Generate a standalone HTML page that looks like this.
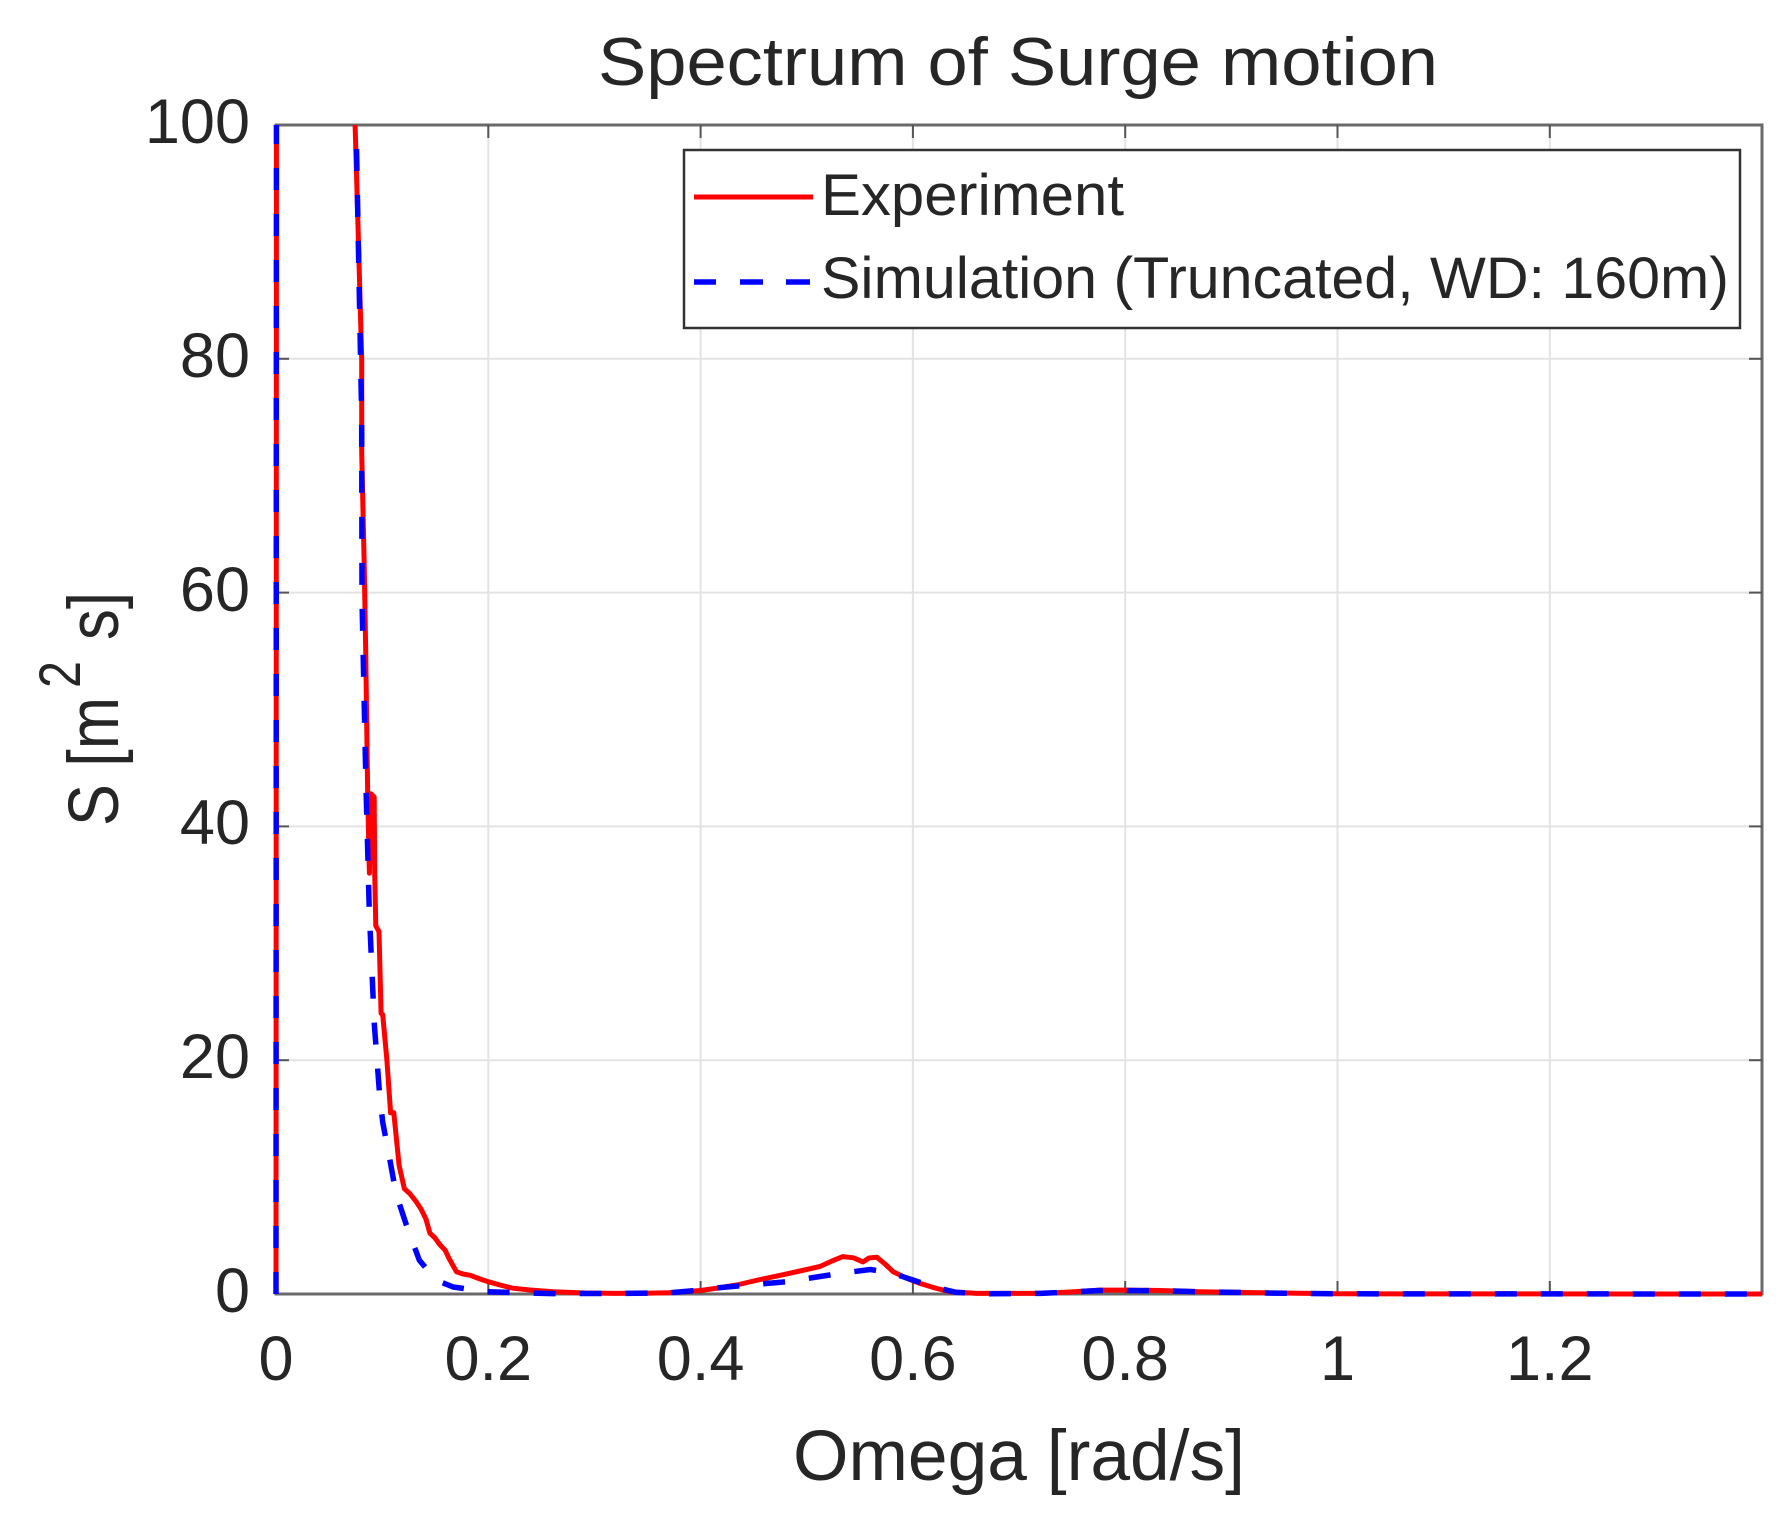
<!DOCTYPE html>
<html>
<head>
<meta charset="utf-8">
<style>
  html, body { margin: 0; padding: 0; background: #ffffff; }
  svg { display: block; }
  text { font-family: "Liberation Sans", Arial, sans-serif; fill: #262626; }
</style>
</head>
<body>
<svg width="1787" height="1518" viewBox="0 0 1787 1518" xmlns="http://www.w3.org/2000/svg">
  <defs>
    <clipPath id="ax">
      <rect x="270" y="125" width="1498" height="1175"/>
    </clipPath>
  </defs>
  <rect x="0" y="0" width="1787" height="1518" fill="#ffffff"/>

  <!-- Title -->
  <text x="598" y="85" font-size="68" textLength="840" lengthAdjust="spacingAndGlyphs">Spectrum of Surge motion</text>

  <!-- Grid -->
  <g stroke="#e3e3e3" stroke-width="2">
    <line x1="488.3" y1="125" x2="488.3" y2="1294"/>
    <line x1="700.6" y1="125" x2="700.6" y2="1294"/>
    <line x1="912.9" y1="125" x2="912.9" y2="1294"/>
    <line x1="1125.2" y1="125" x2="1125.2" y2="1294"/>
    <line x1="1337.5" y1="125" x2="1337.5" y2="1294"/>
    <line x1="1549.8" y1="125" x2="1549.8" y2="1294"/>
    <line x1="276" y1="1060.2" x2="1762" y2="1060.2"/>
    <line x1="276" y1="826.4" x2="1762" y2="826.4"/>
    <line x1="276" y1="592.6" x2="1762" y2="592.6"/>
    <line x1="276" y1="358.8" x2="1762" y2="358.8"/>
  </g>

  <!-- Axes box -->
  <rect x="276" y="125" width="1486" height="1169" fill="none" stroke="#6a6a6a" stroke-width="3"/>

  <!-- Ticks -->
  <g stroke="#555555" stroke-width="2">
    <line x1="488.3" y1="1294" x2="488.3" y2="1281"/>
    <line x1="700.6" y1="1294" x2="700.6" y2="1281"/>
    <line x1="912.9" y1="1294" x2="912.9" y2="1281"/>
    <line x1="1125.2" y1="1294" x2="1125.2" y2="1281"/>
    <line x1="1337.5" y1="1294" x2="1337.5" y2="1281"/>
    <line x1="1549.8" y1="1294" x2="1549.8" y2="1281"/>
    <line x1="488.3" y1="125" x2="488.3" y2="138"/>
    <line x1="700.6" y1="125" x2="700.6" y2="138"/>
    <line x1="912.9" y1="125" x2="912.9" y2="138"/>
    <line x1="1125.2" y1="125" x2="1125.2" y2="138"/>
    <line x1="1337.5" y1="125" x2="1337.5" y2="138"/>
    <line x1="1549.8" y1="125" x2="1549.8" y2="138"/>
    <line x1="276" y1="1060.2" x2="289" y2="1060.2"/>
    <line x1="276" y1="826.4" x2="289" y2="826.4"/>
    <line x1="276" y1="592.6" x2="289" y2="592.6"/>
    <line x1="276" y1="358.8" x2="289" y2="358.8"/>
    <line x1="1762" y1="1060.2" x2="1749" y2="1060.2"/>
    <line x1="1762" y1="826.4" x2="1749" y2="826.4"/>
    <line x1="1762" y1="592.6" x2="1749" y2="592.6"/>
    <line x1="1762" y1="358.8" x2="1749" y2="358.8"/>
  </g>

  <!-- Data -->
  <g clip-path="url(#ax)" fill="none" stroke-linejoin="round">
    <path stroke="#ff0000" stroke-width="5" d="M276,1294 L276.5,0 L353.5,0 L355.1,125 L357.8,218.5 L361.7,358.8 L361.7,452.3 L364.3,569.2 L365.7,651.1 L367.7,796 L369.4,873.2 L371,793.7 L374.2,797.2 L374.7,873.2 L375.8,925.8 L379,931.6 L381.1,1013.4 L382.7,1014.6 L386.9,1060.2 L390.6,1112.8 L393.8,1112.8 L399.1,1165.4 L404.4,1188.8 L409.7,1193.5 L416.1,1201.6 L421,1209 L426,1219.2 L429.9,1233.2 L435,1238 L440,1244.9 L445,1250 L449.3,1258.9 L456.5,1271.8 L463,1274 L470.3,1275.3 L480,1279 L488.3,1281.7 L500,1285 L512.7,1288.2 L530,1290 L553.1,1291.7 L585,1293 L615.7,1293.4 L645,1293.2 L668.8,1292.8 L700.6,1290.5 L718,1288 L736.7,1285 L758,1280 L780.2,1275.3 L800,1271 L820,1266.5 L832,1261 L842.8,1256.6 L853.5,1257.8 L863,1261.9 L869,1258 L876.8,1257.2 L885,1264 L893.3,1271.8 L906,1278 L920.3,1283.5 L935,1288 L950.1,1291.7 L976.6,1293.4 L1040.3,1293.4 L1070,1292 L1099.7,1290.1 L1125.2,1290.1 L1160.2,1290.5 L1199.5,1291.7 L1263.2,1292.8 L1337.5,1293.8 L1762.1,1294"/>
    <path stroke="#0000ff" stroke-width="5.5" stroke-dasharray="22,24" d="M276,1294 L276.5,0 L351.5,0 L356.1,125 L358.3,241.9 L361.7,417.3 L362,600 L366,786.7 L369.3,911.7 L374.3,1024 L379.3,1090.6 L382.7,1122.2 L389.4,1157.2 L396,1193.5 L406,1223.9 L419.3,1260.1 L430,1273 L440,1281.7 L453.1,1287 L486.2,1291.7 L552,1293.6 L620,1293.5 L668.8,1292.8 L690,1291 L713.3,1288.2 L753.7,1284.6 L786.6,1281.7 L820,1276.5 L842.8,1273 L870.4,1269.5 L891.7,1273 L912.9,1280 L934.1,1287 L955.4,1292.2 L976.6,1293.8 L1040.3,1293.4 L1070,1292 L1099.7,1290.5 L1125.2,1290.5 L1160.2,1290.7 L1199.5,1291.7 L1263.2,1293 L1337.5,1293.8 L1762.1,1294"/>
  </g>

  <!-- Y tick labels -->
  <g font-size="63" text-anchor="end">
    <text x="250" y="1312">0</text>
    <text x="250" y="1078">20</text>
    <text x="250" y="844">40</text>
    <text x="250" y="611">60</text>
    <text x="250" y="377">80</text>
    <text x="250" y="143">100</text>
  </g>

  <!-- X tick labels -->
  <g font-size="63" text-anchor="middle">
    <text x="276" y="1380">0</text>
    <text x="488.3" y="1380">0.2</text>
    <text x="700.6" y="1380">0.4</text>
    <text x="912.9" y="1380">0.6</text>
    <text x="1125.2" y="1380">0.8</text>
    <text x="1337.5" y="1380">1</text>
    <text x="1549.8" y="1380">1.2</text>
  </g>

  <!-- X label -->
  <text x="793" y="1480" font-size="71" textLength="452" lengthAdjust="spacingAndGlyphs">Omega [rad/s]</text>

  <!-- Y label -->
  <g transform="translate(118,0) rotate(-90)">
    <text x="-826" y="0" font-size="71" textLength="129" lengthAdjust="spacingAndGlyphs">S [m</text>
    <text x="-688" y="-38" font-size="58" textLength="27" lengthAdjust="spacingAndGlyphs">2</text>
    <text x="-640" y="0" font-size="71" textLength="48" lengthAdjust="spacingAndGlyphs">s]</text>
  </g>

  <!-- Legend -->
  <rect x="684" y="150" width="1056" height="178" fill="#ffffff" stroke="#333333" stroke-width="2.5"/>
  <line x1="694" y1="197" x2="813" y2="197" stroke="#ff0000" stroke-width="5"/>
  <text x="821" y="215" font-size="58" textLength="303" lengthAdjust="spacingAndGlyphs" fill="#000">Experiment</text>
  <g stroke="#0000ff" stroke-width="5.5">
    <line x1="694" y1="282" x2="716" y2="282"/>
    <line x1="740" y1="282" x2="763" y2="282"/>
    <line x1="786" y1="282" x2="810" y2="282"/>
  </g>
  <text x="821" y="298" font-size="58" textLength="908" lengthAdjust="spacingAndGlyphs" fill="#000">Simulation (Truncated, WD: 160m)</text>
</svg>
</body>
</html>
